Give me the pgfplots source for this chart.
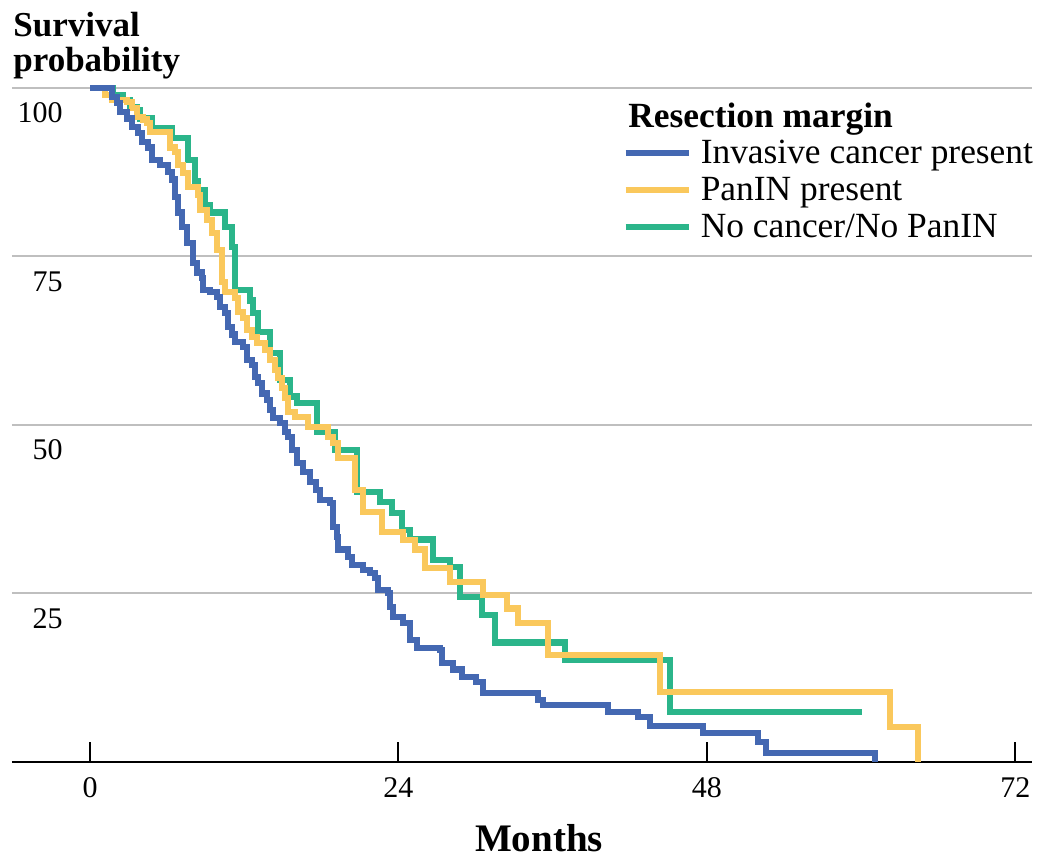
\documentclass[border=0pt]{standalone}
\usepackage{pgfplots}
\pgfplotsset{compat=1.18}
\usepackage{fontspec}
\setmainfont{Liberation Serif}
\definecolor{cblue}{RGB}{68,104,178}
\definecolor{cyellow}{RGB}{250,200,92}
\definecolor{cgreen}{RGB}{43,181,138}
\begin{document}
\begin{tikzpicture}
\useasboundingbox (-6pt,-52.5pt) rectangle (519pt,381pt);
\begin{axis}[
  at={(0,0)}, anchor=south west,
  scale only axis, width=510pt, height=337pt,
  xmin=-6.07, xmax=73.3, ymin=0, ymax=100,
  clip=false,
  axis x line=bottom, axis y line=left,
  x axis line style={-, black, line width=1pt},
  y axis line style={draw=none},
  xtick={0,24,48,72}, ytick={25,50,75,100},
  xtick align=inside,
  major tick length=10pt,
  xtick style={black, line width=1pt},
  ytick style={draw=none},
  ymajorgrids,
  grid style={gray!50, line width=1pt},
  /pgf/number format/assume math mode=true,
  ticklabel style={font=\fontsize{15}{15}\selectfont},
  yticklabel style={anchor=base east, inner sep=0pt, xshift=30.5pt, yshift=-17.5pt},
  xticklabel style={anchor=base, inner sep=0pt, yshift=-18pt},
  xlabel={Months},
  xlabel style={at={(axis description cs:0.5167,0)}, anchor=base, inner sep=0pt, yshift=-45pt, font=\bfseries\fontsize{19.5}{19.5}\selectfont},
  title={Survival\\probability},
  title style={at={(axis description cs:0,1)}, anchor=south west, inner sep=0pt, xshift=0.5pt, yshift=-1.5pt, align=left, font=\bfseries\fontsize{17.5}{17.5}\selectfont},
  legend cell align=left,
  legend image code/.code={\draw[#1, line width=3.2pt] (0pt,1pt) -- (31.5pt,1pt);},
  legend style={at={(0.598,0.926)}, anchor=north west, draw=none, fill=none, inner sep=0pt,
    column sep=4.5pt, row sep=1.5pt, font=\fontsize{17.7}{17.7}\selectfont,
    nodes={inner sep=0pt, text height=12.5pt, text depth=4.5pt}},
]
% No cancer / No PanIN (drawn first)
\addplot[const plot, cgreen, line width=3.2pt, forget plot] coordinates {
(0,100) (1.79,99.0) (2.57,98.2) (3.11,97.2) (3.66,96.7) (3.89,95.5) (4.82,94.1)
(6.38,92.6) (7.63,89.3) (8.17,86.1) (8.40,84.9) (8.95,82.6) (9.34,81.5) (10.51,79.4)
(11.05,76.4) (11.28,70.0) (12.45,68.5) (12.68,66.6) (13.07,63.8) (14.01,60.7)
(14.79,56.7) (15.56,54.2) (16.11,53.3) (17.66,49.0) (19.07,46.3) (20.78,40.1)
(22.57,38.6) (23.50,36.9) (24.28,34.4) (24.90,33.0) (26.69,30.0) (28.01,28.9)
(28.79,24.5) (30.50,21.8) (31.52,17.7) (36.96,15.1) (45.14,7.4) (60.08,7.4)
};
% PanIN present
\addplot[const plot, cyellow, line width=3.2pt, forget plot] coordinates {
(0,100) (1.17,99.0) (1.71,98.2) (2.88,97.9) (3.27,97.0) (3.66,95.7) (4.12,95.3)
(4.44,94.8) (4.67,93.5) (6.23,91.2) (6.61,90.5) (6.85,88.6) (7.24,87.4) (7.63,85.3)
(8.40,84.1) (8.56,81.9) (9.11,80.4) (9.49,78.5) (9.88,76.0) (10.27,71.2) (10.51,69.7)
(11.28,68.8) (11.52,66.8) (11.91,65.9) (12.22,64.1) (12.61,63.1) (13.00,62.2)
(13.62,61.1) (14.01,59.6) (14.40,58.2) (14.63,57.0) (14.94,55.5) (15.17,54.0)
(15.41,51.9) (15.95,51.2) (16.96,49.7) (18.52,48.2) (18.91,47.3) (19.30,45.1)
(20.62,40.4) (21.25,37.1) (22.72,34.1) (24.36,32.9) (25.29,31.5) (26.07,28.8)
(28.01,26.7) (30.58,24.8) (32.45,22.8) (33.31,20.6) (35.64,15.9) (44.36,10.4)
(62.26,5.2) (64.43,0)
};
% Invasive cancer present (drawn last)
\addplot[const plot, cblue, line width=3.2pt, forget plot] coordinates {
(0,100) (1.71,98.7) (2.10,97.8) (2.33,96.4) (2.88,95.5) (3.27,94.2) (3.74,93.3)
(4.05,92.0) (4.51,91.2) (4.82,89.3) (5.45,88.6) (6.07,87.5) (6.38,86.4) (6.61,83.8)
(6.85,81.5) (7.16,79.4) (7.55,77.0) (8.02,74.0) (8.33,72.6) (8.72,71.8) (8.79,70.0)
(9.34,69.7) (9.88,69.0) (10.12,67.5) (10.51,66.6) (10.74,64.5) (11.05,63.4)
(11.28,62.3) (11.91,61.6) (12.22,59.6) (12.61,58.9) (12.84,57.1) (13.07,56.2)
(13.39,54.7) (13.77,53.7) (14.01,52.2) (14.24,51.0) (14.79,50.3) (15.17,49.0)
(15.41,48.2) (15.72,46.3) (16.11,44.4) (16.58,43.0) (17.12,41.5) (17.59,40.4)
(17.90,38.9) (18.68,38.4) (18.91,34.9) (19.22,33.4) (19.30,31.5) (20.08,30.4)
(20.39,29.2) (21.25,28.5) (21.79,28.0) (22.18,27.3) (22.41,25.5) (23.19,25.1)
(23.35,23.0) (23.58,21.5) (24.36,20.6) (24.90,18.1) (25.45,16.9) (27.24,16.6)
(27.39,14.7) (28.25,13.7) (28.95,12.6) (30.04,11.9) (30.58,10.2) (34.86,9.2)
(35.25,8.5) (40.31,7.4) (42.65,6.7) (43.58,5.3) (47.70,4.3) (51.98,3.0)
(52.61,1.3) (61.09,0)
};
\addlegendimage{cblue}
\addlegendentry{Invasive cancer present}
\addlegendimage{cyellow}
\addlegendentry{PanIN present}
\addlegendimage{cgreen}
\addlegendentry{No cancer/No PanIN}
\node[anchor=base west, inner sep=0pt, font=\bfseries\fontsize{17.7}{17.7}\selectfont]
  at (axis description cs:0.6039,0.9421) {Resection margin};
\end{axis}
\end{tikzpicture}
\end{document}
